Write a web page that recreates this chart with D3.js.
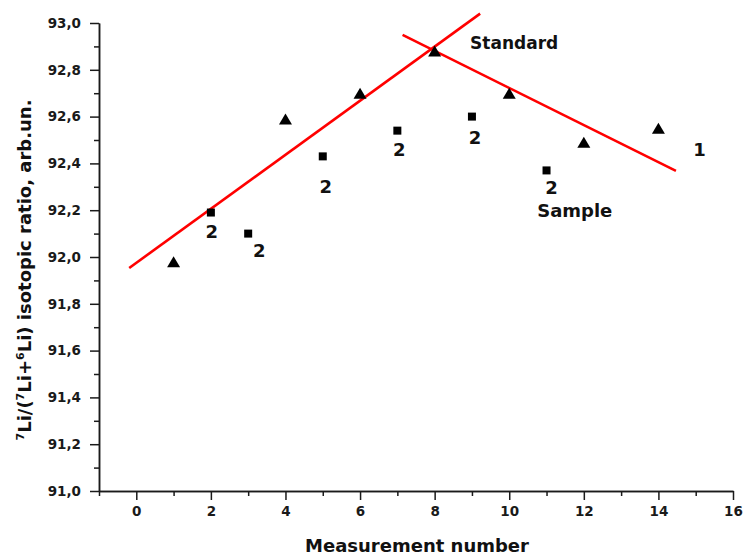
<!DOCTYPE html>
<html>
<head>
<meta charset="utf-8">
<script src="https://cdn.jsdelivr.net/npm/d3@7"></script>
<style>
  body { margin: 0; background: #fff; }
  svg { display: block; font-family: "DejaVu Sans", Verdana, sans-serif; font-weight: bold; }
</style>
</head>
<body>
<svg id="chart" width="743" height="557"></svg>
<script>
// ---- data ----
var standardX = [1, 4, 6, 8, 10, 12, 14];
var standardY = [91.98, 92.59, 92.70, 92.88, 92.70, 92.49, 92.55];

var sampleX = [2, 3, 5, 7, 9, 11];
var sampleY = [92.19, 92.10, 92.43, 92.54, 92.60, 92.37];

// the two red fit lines, endpoints in data units
var fitUpX = [-0.19, 9.22];
var fitUpY = [91.953, 93.04];
var fitDownX = [7.14, 14.47];
var fitDownY = [92.949, 92.368];

var xMajorTicks = [0, 2, 4, 6, 8, 10, 12, 14, 16];
var xMinorTicks = [-1, 1, 3, 5, 7, 9, 11, 13, 15];
var yMajorTicks = [91.0, 91.2, 91.4, 91.6, 91.8, 92.0, 92.2, 92.4, 92.6, 92.8, 93.0];
var yMinorTicks = [91.1, 91.3, 91.5, 91.7, 91.9, 92.1, 92.3, 92.5, 92.7, 92.9];

// text annotations (anchor in data units)
var noteText = ["Standard", "Sample", "1"];
var noteX = [8.95, 10.75, 15.1];
var noteY = [92.89, 92.17, 92.43];

// nudge of each "2" label from its square, in px (layout only)
var twoNudge = [[1, 25], [11, 23], [3, 37], [2, 25], [3, 27], [5, 24]];

var svg = d3.select('#chart');

var x = d3.scaleLinear().domain([-1, 16]).range([99, 733]);
var y = d3.scaleLinear().domain([91, 93]).range([491, 23]);

var axisColor = '#1a1a1a';
var fmt = function (v) { return d3.format('.1f')(v).replace('.', ','); };

//---------- axes ----------
var xAxis = d3.axisBottom(x).tickValues(xMajorTicks).tickSize(9).tickPadding(6).tickSizeOuter(0);
var xMinor = d3.axisBottom(x).tickValues(xMinorTicks).tickSize(5).tickFormat('').tickSizeOuter(0);
var yAxis = d3.axisLeft(y).tickValues(yMajorTicks).tickSize(9).tickPadding(9).tickFormat(fmt).tickSizeOuter(0);
var yMinor = d3.axisLeft(y).tickValues(yMinorTicks).tickSize(5).tickFormat('').tickSizeOuter(0);

function styleAxis(g) {
    g.style('font-family', '"DejaVu Sans", Verdana, sans-serif')
        .style('font-weight', 'bold')
        .style('font-size', '13.5px')
        .style('color', axisColor);
    g.selectAll('path, line').attr('stroke-width', 1.5);
}

svg.append('g').attr('transform', 'translate(0,491)').call(xMinor).call(styleAxis);
svg.append('g').attr('transform', 'translate(0,491)').call(xAxis).call(styleAxis);
svg.append('g').attr('transform', 'translate(99,0)').call(yMinor).call(styleAxis);
svg.append('g').attr('transform', 'translate(99,0)').call(yAxis).call(styleAxis);

// axis titles
svg.append('text')
    .attr('x', 417).attr('y', 552)
    .attr('text-anchor', 'middle')
    .style('font-size', '18px')
    .attr('fill', '#111')
    .text('Measurement number');

var yTitle = svg.append('text')
    .attr('transform', 'translate(31,270) rotate(-90)')
    .attr('text-anchor', 'middle')
    .style('font-size', '18px')
    .attr('fill', '#111');
yTitle.append('tspan').style('font-size', '11px').attr('dy', -7).text('7');
yTitle.append('tspan').attr('dy', 7).text('Li/(');
yTitle.append('tspan').style('font-size', '11px').attr('dy', -7).text('7');
yTitle.append('tspan').attr('dy', 7).text('Li+');
yTitle.append('tspan').style('font-size', '11px').attr('dy', -7).text('6');
yTitle.append('tspan').attr('dy', 7).text('Li) isotopic ratio, arb.un.');

//---------- fit lines ----------
var line = d3.line().x(d => x(d[0])).y(d => y(d[1]));
[[fitUpX, fitUpY], [fitDownX, fitDownY]].forEach(function (f) {
    svg.append('path')
        .attr('d', line(d3.zip(f[0], f[1])))
        .attr('fill', 'none')
        .attr('stroke', '#ff0000')
        .attr('stroke-width', 2.6);
});

//---------- markers ----------
// triangle centred on its bounding box, like the original symbols
var triangleBox = {
    draw: function (ctx, size) {
        var w = Math.sqrt(size) / 2, h = w * 0.85;
        ctx.moveTo(0, -h);
        ctx.lineTo(w, h);
        ctx.lineTo(-w, h);
        ctx.closePath();
    }
};

svg.append('g').selectAll('path')
    .data(d3.zip(standardX, standardY))
    .enter()
    .append('path')
    .attr('d', d3.symbol().type(triangleBox).size(169))
    .attr('transform', d => 'translate(' + x(d[0]) + ',' + y(d[1]) + ')')
    .attr('fill', '#000');

svg.append('g').selectAll('rect')
    .data(d3.zip(sampleX, sampleY))
    .enter()
    .append('rect')
    .attr('x', d => x(d[0]) - 4)
    .attr('y', d => y(d[1]) - 4)
    .attr('width', 8)
    .attr('height', 8)
    .attr('fill', '#000');

// "2" labels under the sample squares
svg.append('g').selectAll('text')
    .data(d3.zip(sampleX, sampleY))
    .enter()
    .append('text')
    .attr('x', (d, i) => x(d[0]) + twoNudge[i][0])
    .attr('y', (d, i) => y(d[1]) + twoNudge[i][1])
    .attr('text-anchor', 'middle')
    .style('font-size', '18px')
    .attr('fill', '#111')
    .text('2');

// Standard / Sample / 1
svg.append('g').selectAll('text')
    .data(noteText)
    .enter()
    .append('text')
    .attr('x', (d, i) => x(noteX[i]))
    .attr('y', (d, i) => y(noteY[i]))
    .attr('text-anchor', (d, i) => d == '1' ? 'middle' : 'start')
    .style('font-size', (d, i) => d == 'Standard' ? '17px' : '18px')
    .attr('fill', '#111')
    .text(d => d);
</script>
</body>
</html>
